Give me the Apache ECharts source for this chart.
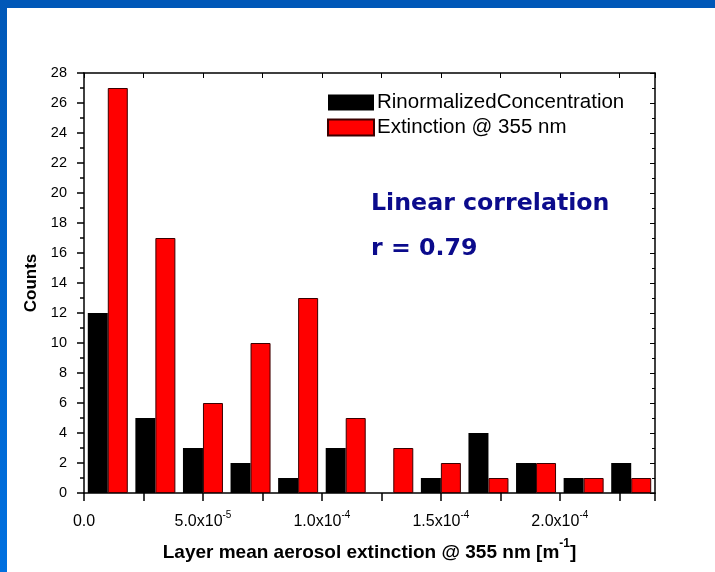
<!DOCTYPE html>
<html>
<head>
<meta charset="utf-8">
<script src="https://cdn.jsdelivr.net/npm/echarts@6/dist/echarts.min.js"></script>
<style>
html,body{margin:0;padding:0;background:#fff;}
#c{width:715px;height:572px;}
</style>
</head>
<body>
<div id="c"></div>
<script>
// Bin centres of the histogram (layer mean aerosol extinction, m^-1)
var binCenters = [1e-5, 3e-5, 5e-5, 7e-5, 9e-5, 1.1e-4, 1.3e-4, 1.5e-4, 1.7e-4, 1.9e-4, 2.1e-4, 2.3e-4];
var concentrationCounts = [12, 5, 3, 2, 1, 3, 0, 1, 4, 2, 1, 2];
var extinctionCounts = [27, 17, 6, 10, 13, 5, 3, 2, 1, 2, 1, 1];
var seriesNames = ['RinormalizedConcentration', 'Extinction @ 355 nm'];
var xTickLabels = {'0': '0.0', '5': '5.0x10', '10': '1.0x10', '15': '1.5x10', '20': '2.0x10'};
var xTickExp = {'5': '-5', '10': '-4', '15': '-4', '20': '-4'};
var yTickLabels = ['0','2','4','6','8','10','12','14','16','18','20','22','24','26','28'];

var chart = echarts.init(document.getElementById('c'));
var FONT = 'Liberation Sans, Arial, sans-serif';

function pairs(vals) {
  return vals.map(function (v, i) { return [binCenters[i], v]; });
}

var option = {
  backgroundColor: '#fff',
  animation: false,
  grid: {left: 84, right: 60, top: 73, bottom: 79},
  legend: {
    orient: 'vertical',
    left: 322, top: 87,
    icon: 'rect',
    itemWidth: 46, itemHeight: 16, itemGap: 4,
    textStyle: {fontFamily: FONT, fontSize: 20.5, color: '#000', padding: [0,0,0,-2]},
    data: seriesNames
  },
  xAxis: [{
    type: 'value', min: 0, max: 2.4e-4, interval: 2.5e-5,
    position: 'bottom',
    axisLine: {show: true, onZero: false, lineStyle: {color: '#000', width: 1.5}},
    axisTick: {show: true, inside: false, length: 8, lineStyle: {color: '#000', width: 1.5}},
    splitLine: {show: false},
    name: '{t|Layer mean aerosol extinction @ 355 nm [m}{s|-1}{t|]}',
    nameLocation: 'middle', nameGap: 45,
    nameTextStyle: {
      rich: {
        t: {fontFamily: FONT, fontSize: 19, fontWeight: 'bold', color: '#000', lineHeight: 24, verticalAlign: 'bottom'},
        s: {fontFamily: FONT, fontSize: 12, fontWeight: 'bold', color: '#000', lineHeight: 24, verticalAlign: 'top'}
      }
    },
    axisLabel: {
      margin: 17,
      formatter: function (v) {
        var k = String(Math.round(v / 1e-5));
        if (!(k in xTickLabels)) return '';
        if (k === '0') return '{b|' + xTickLabels[k] + '}';
        return '{b|' + xTickLabels[k] + '}{s|' + xTickExp[k] + '}';
      },
      rich: {
        b: {fontFamily: FONT, fontSize: 16, color: '#000', lineHeight: 20, verticalAlign: 'bottom'},
        s: {fontFamily: FONT, fontSize: 10, color: '#000', lineHeight: 20, verticalAlign: 'top'}
      }
    }
  }, {
    type: 'value', min: 0, max: 2.4e-4, interval: 2.5e-5,
    position: 'top',
    axisLine: {show: true, onZero: false, lineStyle: {color: '#000', width: 1.5}},
    axisTick: {show: true, inside: true, length: 5, lineStyle: {color: '#000', width: 1}},
    axisLabel: {show: false},
    splitLine: {show: false}
  }],
  yAxis: [{
    type: 'value', min: 0, max: 28, interval: 2,
    position: 'left',
    axisLine: {show: true, onZero: false, lineStyle: {color: '#000', width: 1.5}},
    axisTick: {show: true, length: 7, lineStyle: {color: '#000', width: 1.5}},
    minorTick: {show: true, splitNumber: 2, length: 4, lineStyle: {color: '#000', width: 1.5}},
    splitLine: {show: false},
    axisLabel: {
      margin: 17, fontFamily: FONT, fontSize: 14.5, color: '#000',
      formatter: function (v) { return yTickLabels[Math.round(v / 2)]; }
    },
    name: 'Counts', nameLocation: 'middle', nameGap: 43, nameRotate: 90,
    nameTextStyle: {fontFamily: FONT, fontSize: 17, fontWeight: 'bold', color: '#000'}
  }, {
    type: 'value', min: 0, max: 28, interval: 2,
    position: 'right',
    axisLine: {show: true, onZero: false, lineStyle: {color: '#000', width: 1.5}},
    axisTick: {show: true, inside: true, length: 5, lineStyle: {color: '#000', width: 1}},
    minorTick: {show: true, splitNumber: 2, length: 3, lineStyle: {color: '#000', width: 1}},
    axisLabel: {show: false},
    splitLine: {show: false}
  }],
  series: [{
    name: seriesNames[0], type: 'bar', xAxisIndex: 0, yAxisIndex: 0,
    barWidth: 20, barGap: '0%',
    itemStyle: {color: '#000', borderColor: '#000', borderWidth: 0},
    data: pairs(concentrationCounts)
  }, {
    name: seriesNames[1], type: 'bar', xAxisIndex: 0, yAxisIndex: 0,
    barWidth: 20, barGap: '0%',
    itemStyle: {color: '#ff0000', borderColor: '#3a0000', borderWidth: 1},
    data: pairs(extinctionCounts)
  }],
  graphic: [{
    type: 'rect', left: 0, top: 0, z: 100,
    shape: {width: 715, height: 8},
    style: {fill: '#0058b8'}
  }, {
    type: 'rect', left: 0, top: 0, z: 100,
    shape: {width: 7, height: 572},
    style: {fill: new echarts.graphic.LinearGradient(0, 0, 0, 1, [
      {offset: 0, color: '#0058b8'}, {offset: 1, color: '#0070e0'}])}
  }, {
    type: 'text', left: 371, top: 192, z: 50,
    style: {text: 'Linear correlation', font: 'bold 23.7px "DejaVu Sans", sans-serif', fill: '#0b0b8c'}
  }, {
    type: 'text', left: 371, top: 237, z: 50,
    style: {text: 'r = 0.79', font: 'bold 23.7px "DejaVu Sans", sans-serif', fill: '#0b0b8c'}
  }]
};
chart.setOption(option);
</script>
</body>
</html>
